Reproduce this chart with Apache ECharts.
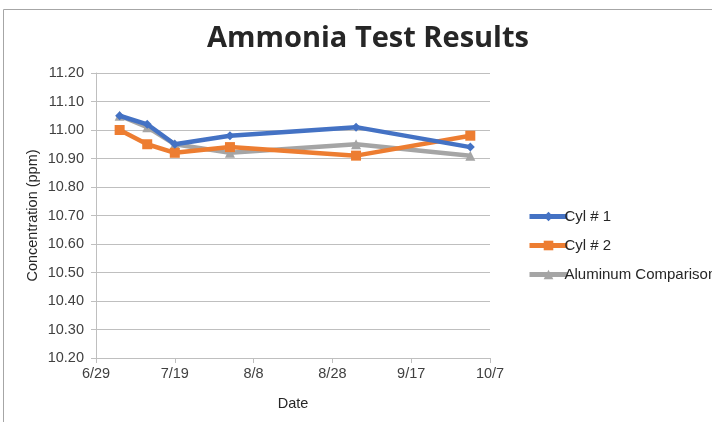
<!DOCTYPE html>
<html>
<head>
<meta charset="utf-8">
<script src="https://cdn.jsdelivr.net/npm/echarts@6/dist/echarts.min.js"></script>
<style>
html,body{margin:0;padding:0;background:#fff;}
#chart{width:712px;height:422px;}
</style>
</head>
<body>
<div id="chart"></div>
<script>
// Data (dates in 2018, as M/D)
var baseDate = '2018-06-29';
var dates = ['2018-07-05', '2018-07-12', '2018-07-19', '2018-08-02', '2018-09-03', '2018-10-02'];
var cyl1 = [11.05, 11.02, 10.95, 10.98, 11.01, 10.94];
var cyl2 = [11.00, 10.95, 10.92, 10.94, 10.91, 10.98];
var aluminum = [11.05, 11.01, 10.95, 10.92, 10.95, 10.91];
var seriesNames = ['Cyl # 1', 'Cyl # 2', 'Aluminum Comparison'];
var xTickDays = 20; // days between x ticks
var xRangeDays = 100;

var DAY = 86400000;
var base = Date.parse(baseDate + 'T00:00:00Z');
function dayOffset(d) { return Math.round((Date.parse(d + 'T00:00:00Z') - base) / DAY); }
function pairs(vals) { return dates.map(function (d, i) { return [dayOffset(d), vals[i]]; }); }
function fmtDay(v) {
  var dt = new Date(base + v * DAY);
  return (dt.getUTCMonth() + 1) + '/' + dt.getUTCDate();
}

var chart = echarts.init(document.getElementById('chart'), null, {renderer: 'canvas'});
var font = '"Liberation Sans", Arial, sans-serif';
var colors = ['#4472C4', '#ED7D31', '#A5A5A5'];
var symbols = ['diamond', 'rect', 'triangle'];
var symSizes = [9, 10, 10];
var allVals = [cyl1, cyl2, aluminum];

chart.setOption({
  animation: false,
  color: colors,
  title: {
    text: 'Ammonia Test Results',
    left: 363, top: 19, textAlign: 'center',
    textStyle: {fontFamily: '"Open Sans", sans-serif', fontWeight: 'bold', fontSize: 29, color: '#262626'}
  },
  graphic: [{
    type: 'rect', shape: {x: 3.5, y: 9.5, width: 800, height: 500},
    style: {fill: null, stroke: '#a6a6a6', lineWidth: 1}, silent: true, z: -1
  }],
  legend: {
    orient: 'vertical', left: 522, top: 204,
    itemWidth: 38, itemHeight: 12, itemGap: 14,
    lineStyle: {width: 5},
    textStyle: {fontFamily: font, fontSize: 15, color: '#262626', padding: [0, 0, 0, -8]},
    data: seriesNames
  },
  grid: {left: 96, right: 222, top: 73, bottom: 64, containLabel: false},
  xAxis: {
    type: 'value', min: 0, max: xRangeDays, interval: xTickDays,
    name: 'Date', nameLocation: 'middle', nameGap: 38, nameMoveOverlap: false,
    nameTextStyle: {fontFamily: font, fontSize: 14.5, color: '#262626'},
    axisLine: {show: true, lineStyle: {color: '#bfbfbf', width: 1}},
    axisTick: {show: true, length: 5, lineStyle: {color: '#bfbfbf'}},
    splitLine: {show: false},
    axisLabel: {fontFamily: font, fontSize: 14.5, color: '#404040', margin: 8, formatter: fmtDay}
  },
  yAxis: {
    type: 'value', min: 10.2, max: 11.2, interval: 0.1,
    name: 'Concentration (ppm)', nameLocation: 'middle', nameGap: 56, nameRotate: 90,
    nameMoveOverlap: false,
    nameTextStyle: {fontFamily: font, fontSize: 14.5, color: '#262626'},
    axisLine: {show: true, lineStyle: {color: '#bfbfbf', width: 1}},
    axisTick: {show: true, length: 5, lineStyle: {color: '#bfbfbf'}},
    splitLine: {show: true, lineStyle: {color: '#bfbfbf', width: 1}},
    axisLabel: {fontFamily: font, fontSize: 14.5, color: '#404040', margin: 12,
      formatter: function (v) { return v.toFixed(2); }}
  },
  series: seriesNames.map(function (n, i) {
    return {
      name: n, type: 'line', data: pairs(allVals[i]),
      symbol: symbols[i], symbolSize: symSizes[i], showSymbol: true,
      lineStyle: {width: 4.5, color: colors[i]},
      itemStyle: {color: colors[i]},
      z: 3 - i
    };
  })
});
</script>
</body>
</html>
